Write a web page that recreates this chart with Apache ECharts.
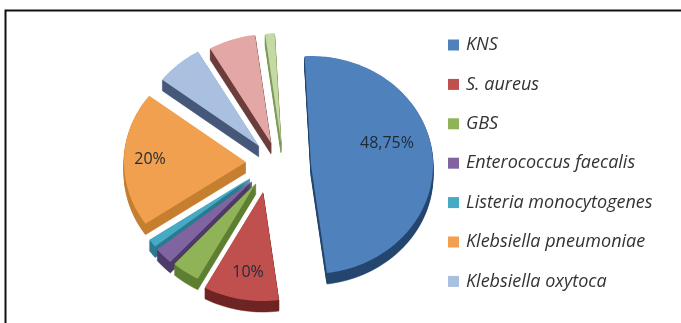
<!DOCTYPE html>
<html>
<head>
<meta charset="utf-8">
<style>
  html, body { margin: 0; padding: 0; background: #fff; }
  #chart { width: 681px; height: 323px; }
</style>
<script src="https://cdn.jsdelivr.net/npm/echarts@6/dist/echarts.min.js"></script>
</head>
<body>
<div id="chart"></div>
<script>
// Share of each organism, in percent
const categories = ['KNS', 'S. aureus', 'GBS', 'Enterococcus faecalis', 'Listeria monocytogenes',
  'Klebsiella pneumoniae', 'Klebsiella oxytoca', 'Other 1', 'Other 2'];
const shares = [48.75, 10, 3.75, 2.5, 1.25, 20, 6.25, 6.25, 1.25];
const valueLabels = ['48,75%', '10%', '', '', '', '20%', '', '', ''];
const legendNames = categories.slice(0, 7);

// Face and side colours per slice
const faceColors = ['#4f81bd', '#c0504d', '#8fb356', '#8064a2', '#46aac4', '#f0a04e', '#a9c0e0', '#e3a7a5', '#c5d9a4'];
const sideColors = ['#25476f', '#6e2523', '#5f7f32', '#4d3a68', '#2a7a90', '#c67f30', '#46587a', '#6d3d3c', '#7f9a58'];

// Where each exploded slice has its apex, and its value label relative to that apex
const apexes = [[311, 165], [263, 192], [256, 183], [252, 181], [250, 178], [246, 162], [259, 146], [271, 143], [281, 142]];
const labelOffsets = [[76, -22], [-15, 80], null, null, null, [-96, -3], null, null, null];

const RX = 122, RY = 109, DEPTH = 11, START_DEG = -3;
const total = shares.reduce((a, b) => a + b, 0);

// Outline of a tilted slice: apex followed by points along the elliptical rim
function outline(cx, cy, fromDeg, toDeg, dy) {
  const pts = [[cx, cy + dy]];
  const steps = Math.max(4, Math.ceil((toDeg - fromDeg) / 2));
  for (let i = 0; i <= steps; i++) {
    const a = (fromDeg + (toDeg - fromDeg) * i / steps) * Math.PI / 180;
    pts.push([cx + RX * Math.sin(a), cy - RY * Math.cos(a) + dy]);
  }
  return pts;
}

function sliceSeries(name, idx) {
  const before = shares.slice(0, idx).reduce((a, b) => a + b, 0);
  return {
    type: 'custom',
    name: name,
    coordinateSystem: 'none',
    silent: true,
    animation: false,
    itemStyle: { color: faceColors[idx] },
    data: [[shares[idx]]],
    renderItem: function (params, api) {
      const from = START_DEG + before / total * 360;
      const to = from + api.value(0) / total * 360;
      const [cx, cy] = apexes[idx];
      const children = [];
      // Side wall: the outline swept downward
      for (let d = DEPTH; d >= 1; d--) {
        children.push({
          type: 'polygon',
          shape: { points: outline(cx, cy, from, to, d) },
          style: { fill: sideColors[idx], stroke: sideColors[idx], lineWidth: 0.5 }
        });
      }
      children.push({
        type: 'polygon',
        shape: { points: outline(cx, cy, from, to, 0) },
        style: { fill: faceColors[idx] }
      });
      if (valueLabels[idx]) {
        children.push({
          type: 'text',
          x: cx + labelOffsets[idx][0],
          y: cy + labelOffsets[idx][1],
          style: {
            text: valueLabels[idx], fill: '#1f2a38',
            font: '16px "Open Sans", sans-serif',
            align: 'center', verticalAlign: 'middle'
          }
        });
      }
      return { type: 'group', children: children };
    }
  };
}

const chart = echarts.init(document.getElementById('chart'), null, { renderer: 'canvas' });
// Slices painted back to front
const paintOrder = [8, 7, 6, 5, 4, 3, 2, 1, 0];
chart.setOption({
  backgroundColor: '#fff',
  animation: false,
  graphic: [{
    type: 'polyline',
    shape: { points: [[5.5, 323], [5.5, 10.5], [681, 10.5]] },
    style: { fill: 'none', stroke: '#111', lineWidth: 2 }
  }],
  legend: {
    data: legendNames,
    orient: 'vertical',
    left: 443,
    top: 29.5,
    itemWidth: 11,
    itemHeight: 11,
    itemGap: 18.4,
    icon: 'rect',
    selectedMode: false,
    textStyle: { fontFamily: '"Open Sans", sans-serif', fontStyle: 'italic', fontSize: 18, lineHeight: 18, color: '#333', padding: [3, 0, 0, 2] }
  },
  series: paintOrder.map(i => sliceSeries(categories[i], i))
});
</script>
</body>
</html>
